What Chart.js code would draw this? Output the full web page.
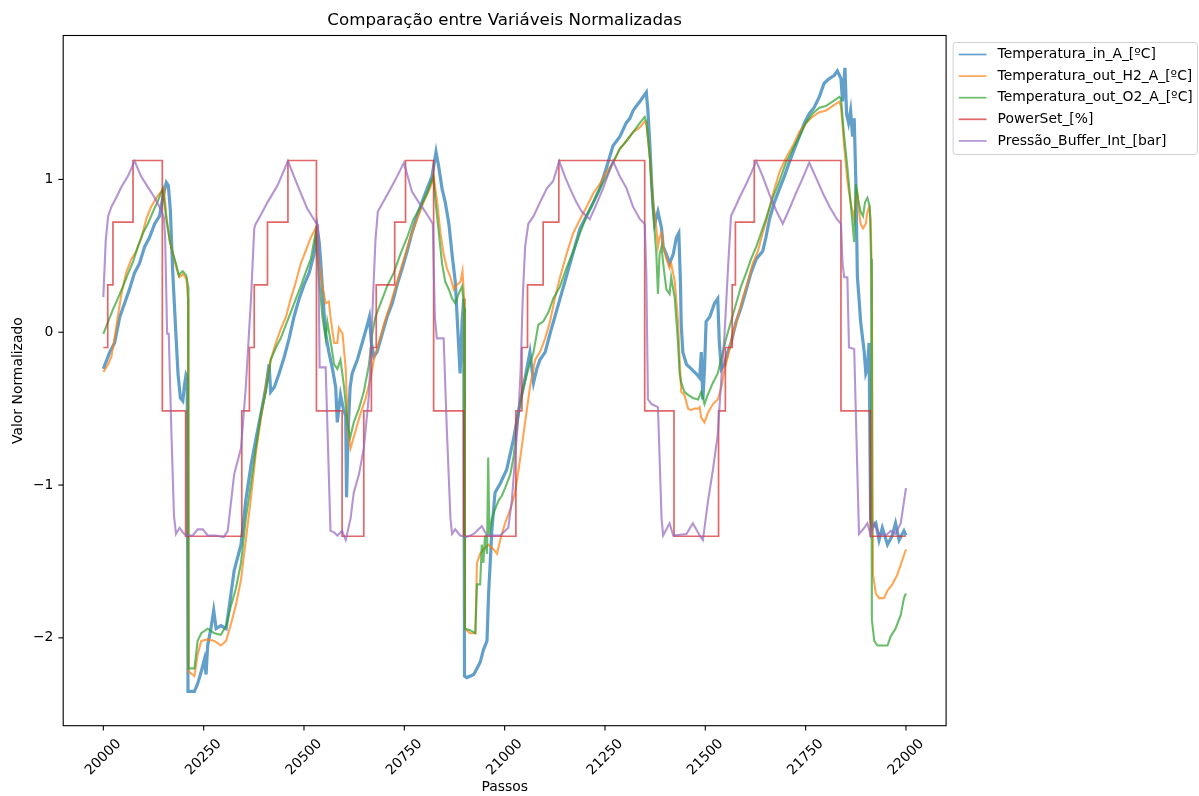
<!DOCTYPE html>
<html>
<head>
<meta charset="utf-8">
<title>Comparação entre Variáveis Normalizadas</title>
<script src="https://cdn.jsdelivr.net/npm/chart.js@4.4.1/dist/chart.umd.min.js"></script>
<style>
  html, body { margin: 0; padding: 0; background: #ffffff; }
  #wrap { width: 1199px; height: 796px; }
</style>
</head>
<body>
<div id="wrap"><canvas id="chart" width="1199" height="796"></canvas></div>
<script>
// ---- texts ----
const chartTitle = 'Comparação entre Variáveis Normalizadas';
const xTitle = 'Passos';
const yTitle = 'Valor Normalizado';
const seriesLabels = [
  'Temperatura_in_A_[ºC]',
  'Temperatura_out_H2_A_[ºC]',
  'Temperatura_out_O2_A_[ºC]',
  'PowerSet_[%]',
  'Pressão_Buffer_Int_[bar]'
];

// ---- tick labels ----
const xTicks = [20000, 20250, 20500, 20750, 21000, 21250, 21500, 21750, 22000];
const yTicks = [-2, -1, 0, 1];

// ---- series: [passo, valor normalizado] ----
const tempIn = [
[20000,-0.24],[20016,-0.13],[20028,-0.07],[20041,0.10],[20053,0.19],[20065,0.28],[20078,0.39],[20090,0.45],[20103,0.56],[20115,0.62],[20128,0.71],[20140,0.76],[20148,0.88],[20157,0.98],[20162,0.96],[20167,0.80],[20173,0.39],[20179,0.08],[20186,-0.27],[20192,-0.43],[20198,-0.45],[20202,-0.35],[20206,-0.28],[20209,-0.30],[20211,-2.35],[20227,-2.35],[20235,-2.30],[20244,-2.22],[20252,-2.14],[20256,-2.24],[20260,-2.05],[20268,-1.94],[20275,-1.82],[20281,-1.94],[20293,-1.92],[20306,-1.94],[20314,-1.79],[20326,-1.56],[20343,-1.39],[20355,-1.10],[20368,-0.87],[20380,-0.70],[20393,-0.53],[20405,-0.36],[20413,-0.21],[20417,-0.39],[20426,-0.36],[20438,-0.27],[20451,-0.16],[20463,-0.04],[20475,0.10],[20488,0.22],[20500,0.31],[20513,0.39],[20525,0.51],[20533,0.68],[20538,0.59],[20542,0.45],[20546,0.28],[20550,0.13],[20554,-0.01],[20562,-0.13],[20571,-0.24],[20579,-0.36],[20583,-0.59],[20587,-0.50],[20591,-0.41],[20598,-0.50],[20604,-0.55],[20606,-1.08],[20610,-0.64],[20615,-0.36],[20620,-0.27],[20633,-0.18],[20645,-0.07],[20658,0.05],[20663,0.10],[20668,-0.07],[20674,-0.16],[20682,-0.13],[20695,-0.01],[20707,0.10],[20720,0.19],[20732,0.31],[20745,0.42],[20757,0.53],[20769,0.65],[20782,0.76],[20794,0.85],[20807,0.94],[20819,1.02],[20829,1.18],[20836,1.08],[20844,0.94],[20852,0.85],[20861,0.71],[20869,0.51],[20877,0.33],[20885,-0.07],[20889,-0.27],[20894,0.07],[20898,0.22],[20900,-2.25],[20906,-2.26],[20923,-2.24],[20931,-2.20],[20939,-2.16],[20947,-2.08],[20956,-2.02],[20960,-1.71],[20964,-1.51],[20968,-1.30],[20976,-1.05],[20989,-0.99],[21005,-0.90],[21022,-0.70],[21038,-0.47],[21051,-0.30],[21063,-0.13],[21072,-0.33],[21080,-0.24],[21088,-0.18],[21101,-0.13],[21113,-0.01],[21125,0.10],[21138,0.22],[21150,0.33],[21163,0.45],[21175,0.56],[21188,0.68],[21204,0.76],[21221,0.85],[21237,0.94],[21254,1.08],[21270,1.22],[21287,1.28],[21303,1.37],[21312,1.40],[21320,1.45],[21328,1.48],[21337,1.51],[21345,1.54],[21353,1.57],[21357,1.45],[21362,1.22],[21366,0.99],[21370,0.82],[21374,0.71],[21382,0.79],[21391,0.68],[21395,0.56],[21403,0.51],[21411,0.45],[21420,0.51],[21428,0.62],[21434,0.65],[21438,0.33],[21440,0.05],[21444,-0.13],[21453,-0.21],[21465,-0.24],[21477,-0.27],[21486,-0.30],[21490,-0.13],[21494,-0.44],[21498,-0.24],[21502,0.07],[21511,0.10],[21523,0.19],[21531,0.22],[21535,-0.07],[21540,-0.24],[21548,-0.21],[21556,-0.13],[21564,-0.07],[21577,0.07],[21589,0.16],[21602,0.28],[21614,0.39],[21627,0.48],[21643,0.53],[21651,0.62],[21660,0.74],[21672,0.85],[21685,0.94],[21697,1.02],[21709,1.11],[21722,1.20],[21734,1.28],[21747,1.37],[21759,1.43],[21771,1.47],[21784,1.54],[21796,1.63],[21809,1.66],[21821,1.68],[21829,1.71],[21838,1.66],[21842,1.51],[21848,1.73],[21852,1.43],[21857,1.37],[21862,1.45],[21867,1.28],[21871,1.40],[21875,1.00],[21879,0.36],[21883,0.22],[21887,0.07],[21896,-0.13],[21900,-0.27],[21904,-0.24],[21908,-0.07],[21912,-1.22],[21916,-1.28],[21925,-1.25],[21933,-1.36],[21941,-1.28],[21954,-1.39],[21966,-1.33],[21974,-1.25],[21983,-1.36],[21995,-1.30],[22000,-1.33]
];

const tempOutH2 = [
[20000,-0.26],[20012,-0.21],[20020,-0.16],[20028,-0.04],[20036,0.10],[20045,0.25],[20057,0.39],[20070,0.48],[20082,0.53],[20095,0.62],[20107,0.74],[20119,0.82],[20132,0.88],[20144,0.92],[20151,0.94],[20157,0.76],[20166,0.59],[20174,0.51],[20182,0.42],[20190,0.36],[20198,0.38],[20207,0.35],[20211,0.22],[20212,-2.22],[20227,-2.25],[20235,-2.11],[20244,-2.02],[20260,-2.01],[20277,-2.02],[20293,-2.05],[20306,-2.02],[20318,-1.91],[20330,-1.79],[20343,-1.62],[20355,-1.36],[20368,-1.08],[20380,-0.79],[20393,-0.56],[20405,-0.36],[20417,-0.18],[20430,-0.07],[20442,0.02],[20455,0.10],[20467,0.22],[20480,0.33],[20492,0.45],[20504,0.53],[20517,0.62],[20529,0.68],[20538,0.45],[20546,0.30],[20554,0.19],[20562,0.20],[20566,0.10],[20575,-0.07],[20583,-0.07],[20587,0.03],[20596,-0.01],[20604,-0.24],[20610,-0.66],[20616,-0.76],[20629,-0.64],[20641,-0.53],[20653,-0.44],[20666,-0.30],[20674,-0.18],[20686,-0.07],[20699,0.05],[20716,0.19],[20732,0.33],[20749,0.48],[20765,0.62],[20782,0.74],[20798,0.85],[20815,0.95],[20823,1.02],[20832,0.85],[20840,0.65],[20848,0.51],[20856,0.42],[20865,0.36],[20873,0.28],[20881,0.31],[20890,0.33],[20895,0.40],[20899,0.22],[20901,-1.94],[20914,-1.97],[20927,-1.97],[20931,-1.51],[20939,-1.45],[20947,-1.42],[20960,-1.39],[20972,-1.42],[20981,-1.45],[20989,-1.36],[21001,-1.25],[21014,-1.16],[21026,-1.05],[21038,-0.84],[21051,-0.59],[21063,-0.36],[21076,-0.18],[21088,-0.13],[21101,-0.04],[21113,0.07],[21125,0.22],[21138,0.36],[21154,0.51],[21171,0.65],[21188,0.74],[21204,0.82],[21221,0.91],[21237,0.97],[21254,1.05],[21270,1.11],[21287,1.20],[21303,1.25],[21320,1.31],[21337,1.34],[21349,1.38],[21353,1.37],[21362,1.14],[21370,0.85],[21378,0.68],[21382,0.56],[21386,0.62],[21391,0.65],[21395,0.56],[21403,0.48],[21411,0.42],[21415,0.45],[21424,0.33],[21432,0.07],[21436,-0.18],[21440,-0.39],[21448,-0.41],[21457,-0.50],[21465,-0.51],[21473,-0.50],[21482,-0.50],[21486,-0.49],[21490,-0.56],[21498,-0.59],[21506,-0.53],[21519,-0.47],[21531,-0.44],[21540,-0.36],[21548,-0.24],[21556,-0.16],[21569,-0.01],[21581,0.10],[21593,0.22],[21606,0.33],[21618,0.45],[21631,0.53],[21643,0.65],[21655,0.76],[21668,0.90],[21685,1.05],[21701,1.14],[21718,1.22],[21734,1.31],[21751,1.37],[21767,1.41],[21784,1.44],[21800,1.45],[21817,1.48],[21834,1.51],[21838,1.48],[21846,1.22],[21854,0.99],[21862,0.85],[21871,0.74],[21875,0.88],[21879,0.91],[21883,0.79],[21887,0.71],[21893,0.68],[21900,0.71],[21904,0.79],[21908,0.82],[21912,0.74],[21915,0.36],[21918,-1.59],[21925,-1.71],[21933,-1.74],[21945,-1.74],[21954,-1.69],[21966,-1.65],[21978,-1.59],[21991,-1.49],[22000,-1.42]
];

const tempOutO2 = [
[20000,-0.01],[20012,0.07],[20024,0.15],[20036,0.22],[20049,0.30],[20061,0.38],[20074,0.46],[20086,0.56],[20099,0.65],[20111,0.71],[20124,0.79],[20136,0.86],[20148,0.94],[20157,0.74],[20166,0.59],[20174,0.51],[20182,0.44],[20188,0.37],[20193,0.39],[20198,0.40],[20207,0.37],[20211,0.30],[20212,-2.20],[20227,-2.20],[20235,-2.02],[20244,-1.97],[20260,-1.94],[20277,-1.97],[20293,-1.98],[20306,-1.92],[20318,-1.79],[20330,-1.68],[20343,-1.51],[20355,-1.22],[20368,-0.99],[20380,-0.76],[20393,-0.53],[20405,-0.39],[20417,-0.18],[20430,-0.10],[20442,-0.04],[20455,0.05],[20467,0.13],[20480,0.22],[20492,0.30],[20504,0.39],[20517,0.48],[20529,0.65],[20538,0.33],[20546,0.10],[20554,-0.04],[20558,0.07],[20567,-0.07],[20575,-0.21],[20583,-0.24],[20591,-0.18],[20600,-0.36],[20608,-0.59],[20615,-0.69],[20624,-0.59],[20637,-0.50],[20649,-0.39],[20662,-0.21],[20670,-0.01],[20678,0.10],[20691,0.19],[20707,0.30],[20724,0.39],[20740,0.51],[20757,0.62],[20773,0.74],[20790,0.82],[20807,0.91],[20822,1.02],[20828,0.85],[20836,0.65],[20844,0.45],[20852,0.33],[20861,0.28],[20869,0.22],[20877,0.19],[20885,0.25],[20894,0.30],[20899,0.16],[20901,-1.94],[20914,-1.95],[20927,-1.97],[20931,-1.65],[20939,-1.65],[20943,-1.39],[20947,-1.51],[20951,-1.33],[20956,-1.45],[20959,-0.82],[20962,-1.33],[20968,-1.22],[20976,-1.16],[20985,-1.10],[20993,-1.07],[21001,-1.02],[21014,-0.93],[21022,-0.82],[21030,-0.64],[21038,-0.47],[21047,-0.36],[21059,-0.24],[21072,-0.13],[21084,0.05],[21096,0.07],[21109,0.13],[21121,0.22],[21138,0.30],[21154,0.42],[21171,0.53],[21188,0.65],[21204,0.76],[21221,0.85],[21237,0.94],[21254,1.02],[21270,1.11],[21287,1.20],[21303,1.25],[21320,1.31],[21337,1.37],[21349,1.41],[21353,1.38],[21362,1.14],[21370,0.79],[21378,0.51],[21382,0.25],[21386,0.51],[21391,0.56],[21395,0.45],[21403,0.28],[21411,0.25],[21415,0.36],[21424,0.22],[21432,-0.07],[21436,-0.27],[21440,-0.33],[21448,-0.39],[21457,-0.41],[21469,-0.43],[21482,-0.44],[21490,-0.39],[21498,-0.47],[21506,-0.41],[21519,-0.33],[21531,-0.27],[21544,-0.13],[21552,-0.04],[21564,0.07],[21577,0.19],[21589,0.30],[21602,0.39],[21614,0.48],[21627,0.56],[21639,0.65],[21651,0.74],[21668,0.88],[21685,0.99],[21701,1.11],[21718,1.20],[21734,1.28],[21751,1.37],[21767,1.43],[21784,1.47],[21800,1.48],[21817,1.51],[21834,1.54],[21838,1.53],[21846,1.28],[21854,1.08],[21862,0.85],[21871,0.59],[21875,0.97],[21882,0.85],[21887,0.79],[21893,0.76],[21898,0.85],[21904,0.88],[21910,0.82],[21913,0.48],[21915,-1.88],[21921,-2.02],[21929,-2.05],[21941,-2.05],[21954,-2.05],[21962,-1.99],[21974,-1.94],[21987,-1.85],[21995,-1.74],[22000,-1.71]
];

// PowerSet changes level at these steps (held until the next entry)
const powerSet = [
[20000,-0.10],[20011,0.31],[20024,0.72],[20074,1.124],[20147,-0.515],[20205,-1.335],[20345,-0.515],[20364,-0.10],[20376,0.31],[20409,0.72],[20460,1.124],[20531,-0.515],[20595,-1.335],[20649,-0.515],[20668,-0.10],[20680,0.31],[20726,0.72],[20753,1.124],[20823,-0.515],[20898,-1.335],[21028,-0.515],[21043,-0.10],[21057,0.31],[21096,0.72],[21135,1.124],[21349,-0.515],[21422,-1.335],[21533,-0.515],[21550,-0.10],[21567,0.31],[21575,0.72],[21622,1.124],[21838,-0.515],[21911,-1.335],[22000,-1.335]
];

const pressure = [
[20000,0.23],[20006,0.60],[20012,0.76],[20020,0.82],[20032,0.88],[20045,0.95],[20061,1.02],[20078,1.12],[20094,1.02],[20111,0.95],[20128,0.88],[20144,0.80],[20151,0.75],[20154,0.62],[20159,-0.01],[20163,-0.01],[20169,-0.60],[20176,-1.20],[20181,-1.32],[20190,-1.28],[20198,-1.31],[20206,-1.33],[20223,-1.33],[20235,-1.29],[20248,-1.29],[20260,-1.33],[20280,-1.33],[20300,-1.34],[20310,-1.30],[20326,-0.93],[20343,-0.76],[20355,-0.36],[20368,0.22],[20376,0.68],[20380,0.71],[20393,0.77],[20409,0.85],[20434,0.96],[20460,1.12],[20475,1.02],[20492,0.91],[20508,0.81],[20529,0.72],[20535,0.70],[20539,-0.23],[20554,-0.23],[20566,-1.30],[20575,-1.31],[20583,-1.33],[20595,-1.30],[20604,-1.36],[20616,-1.22],[20624,-1.05],[20637,-0.93],[20649,-0.76],[20662,-0.41],[20670,0.10],[20678,0.60],[20684,0.79],[20699,0.86],[20716,0.94],[20732,1.02],[20749,1.11],[20769,0.92],[20786,0.85],[20802,0.79],[20821,0.71],[20826,0.10],[20831,-0.04],[20848,-0.04],[20856,-0.64],[20865,-1.22],[20869,-1.32],[20877,-1.29],[20889,-1.33],[20906,-1.34],[20923,-1.32],[20943,-1.27],[20956,-1.33],[20989,-1.33],[21009,-1.28],[21018,-1.10],[21026,-0.82],[21034,-0.56],[21040,-0.24],[21045,0.22],[21051,0.56],[21059,0.71],[21072,0.76],[21088,0.85],[21105,0.94],[21121,0.99],[21136,1.12],[21150,1.02],[21163,0.94],[21179,0.85],[21192,0.79],[21212,0.74],[21229,0.84],[21245,0.94],[21270,1.12],[21287,1.02],[21304,0.94],[21320,0.82],[21337,0.74],[21349,0.71],[21353,0.39],[21357,-0.44],[21366,-0.47],[21382,-0.49],[21391,-1.22],[21395,-1.33],[21411,-1.25],[21420,-1.33],[21453,-1.32],[21469,-1.25],[21486,-1.33],[21494,-1.36],[21507,-1.10],[21519,-0.90],[21531,-0.67],[21540,-0.30],[21548,-0.01],[21556,0.39],[21564,0.76],[21573,0.81],[21585,0.88],[21602,0.97],[21614,1.04],[21627,1.12],[21643,1.02],[21660,0.90],[21676,0.80],[21693,0.71],[21710,0.81],[21726,0.91],[21743,1.01],[21759,1.11],[21776,1.01],[21793,0.91],[21810,0.82],[21828,0.74],[21838,0.71],[21842,0.45],[21846,0.36],[21854,0.36],[21858,-0.10],[21871,-0.11],[21879,-0.93],[21883,-1.32],[21896,-1.28],[21904,-1.25],[21912,-1.33],[21921,-1.25],[21933,-1.32],[21950,-1.33],[21962,-1.30],[21974,-1.32],[21987,-1.25],[22000,-1.02]
];

// ---- styling ----
const FONT = '"DejaVu Sans", "Liberation Sans", sans-serif';
const colors = [
  'rgba(31,119,180,0.7)',
  'rgba(255,127,14,0.7)',
  'rgba(44,160,44,0.7)',
  'rgba(214,39,40,0.7)',
  'rgba(148,103,189,0.7)'
];
// the inlet temperature trace is noisy, so it is drawn as a wider band
const widths = [3.2, 2.1, 2.1, 1.7, 2.1];

const toXY = arr => arr.map(([x, y]) => ({ x, y }));
const seriesData = [tempIn, tempOutH2, tempOutO2, powerSet, pressure];

const datasets = seriesData.map((arr, i) => ({
  label: seriesLabels[i],
  data: toXY(arr),
  borderColor: colors[i],
  backgroundColor: colors[i],
  borderWidth: widths[i],
  pointRadius: 0,
  tension: 0,
  fill: false,
  stepped: i === 3 ? 'before' : false,
  order: seriesData.length - 1 - i   // later series painted on top
}));

// frame, ticks, labels, title and legend drawn around the plot area
const decor = {
  id: 'decor',
  beforeDraw(chart) {
    const c = chart.ctx;
    c.save();
    c.fillStyle = '#ffffff';
    c.fillRect(0, 0, chart.width, chart.height);
    c.restore();
  },
  afterDraw(chart) {
    const { ctx, chartArea: a, scales: { x, y } } = chart;
    ctx.save();

    // axes frame
    ctx.strokeStyle = '#000';
    ctx.lineWidth = 1.1;
    ctx.strokeRect(a.left, a.top, a.right - a.left, a.bottom - a.top);

    ctx.fillStyle = '#000';
    ctx.font = `13.9px ${FONT}`;

    // x ticks, rotated 45°
    xTicks.forEach(v => {
      const px = x.getPixelForValue(v);
      ctx.beginPath();
      ctx.moveTo(px, a.bottom);
      ctx.lineTo(px, a.bottom + 4.9);
      ctx.stroke();
      ctx.save();
      ctx.translate(px, a.bottom + 31.5);
      ctx.rotate(-Math.PI / 4);
      ctx.textAlign = 'center';
      ctx.textBaseline = 'middle';
      ctx.fillText(String(v), 0, 0);
      ctx.restore();
    });

    // y ticks
    yTicks.forEach(v => {
      const py = y.getPixelForValue(v);
      ctx.beginPath();
      ctx.moveTo(a.left, py);
      ctx.lineTo(a.left - 4.9, py);
      ctx.stroke();
      ctx.textAlign = 'right';
      ctx.textBaseline = 'middle';
      ctx.fillText(v < 0 ? '\u2212' + Math.abs(v) : String(v), a.left - 9.8, py);
    });

    // axis titles
    ctx.textAlign = 'center';
    ctx.textBaseline = 'middle';
    ctx.fillText(xTitle, (a.left + a.right) / 2, 787);
    ctx.save();
    ctx.translate(18.5, (a.top + a.bottom) / 2);
    ctx.rotate(-Math.PI / 2);
    ctx.fillText(yTitle, 0, 0);
    ctx.restore();

    // title
    ctx.font = `16.7px ${FONT}`;
    ctx.textBaseline = 'alphabetic';
    ctx.fillText(chartTitle, (a.left + a.right) / 2, 25);

    // legend
    const lx = a.right + 7, ly = a.top + 7;
    const lw = chart.width - 1.5 - lx, lh = 112;
    ctx.beginPath();
    ctx.roundRect(lx, ly, lw, lh, 3);
    ctx.fillStyle = 'rgba(255,255,255,0.8)';
    ctx.fill();
    ctx.strokeStyle = 'rgba(204,204,204,0.9)';
    ctx.lineWidth = 1;
    ctx.stroke();
    ctx.font = `13.9px ${FONT}`;
    ctx.textAlign = 'left';
    ctx.textBaseline = 'middle';
    chart.data.datasets.forEach((ds, i) => {
      const cy = ly + 12 + i * 21.6;
      ctx.strokeStyle = ds.borderColor;
      ctx.lineWidth = 1.7;
      ctx.beginPath();
      ctx.moveTo(lx + 5.6, cy);
      ctx.lineTo(lx + 33.4, cy);
      ctx.stroke();
      ctx.fillStyle = '#000';
      ctx.fillText(ds.label, lx + 44.5, cy);
    });

    ctx.restore();
  }
};

new Chart(document.getElementById('chart'), {
  type: 'line',
  data: { datasets },
  options: {
    responsive: false,
    devicePixelRatio: 1,
    animation: false,
    parsing: true,
    layout: { padding: { left: 63.2, right: 252.9, top: 35.5, bottom: 70.3 } },
    scales: {
      x: { type: 'linear', min: 19900, max: 22100, display: false },
      y: { type: 'linear', min: -2.575, max: 1.942, display: false }
    },
    plugins: {
      legend: { display: false },
      title: { display: false },
      tooltip: { enabled: false }
    }
  },
  plugins: [decor]
});
</script>
</body>
</html>
